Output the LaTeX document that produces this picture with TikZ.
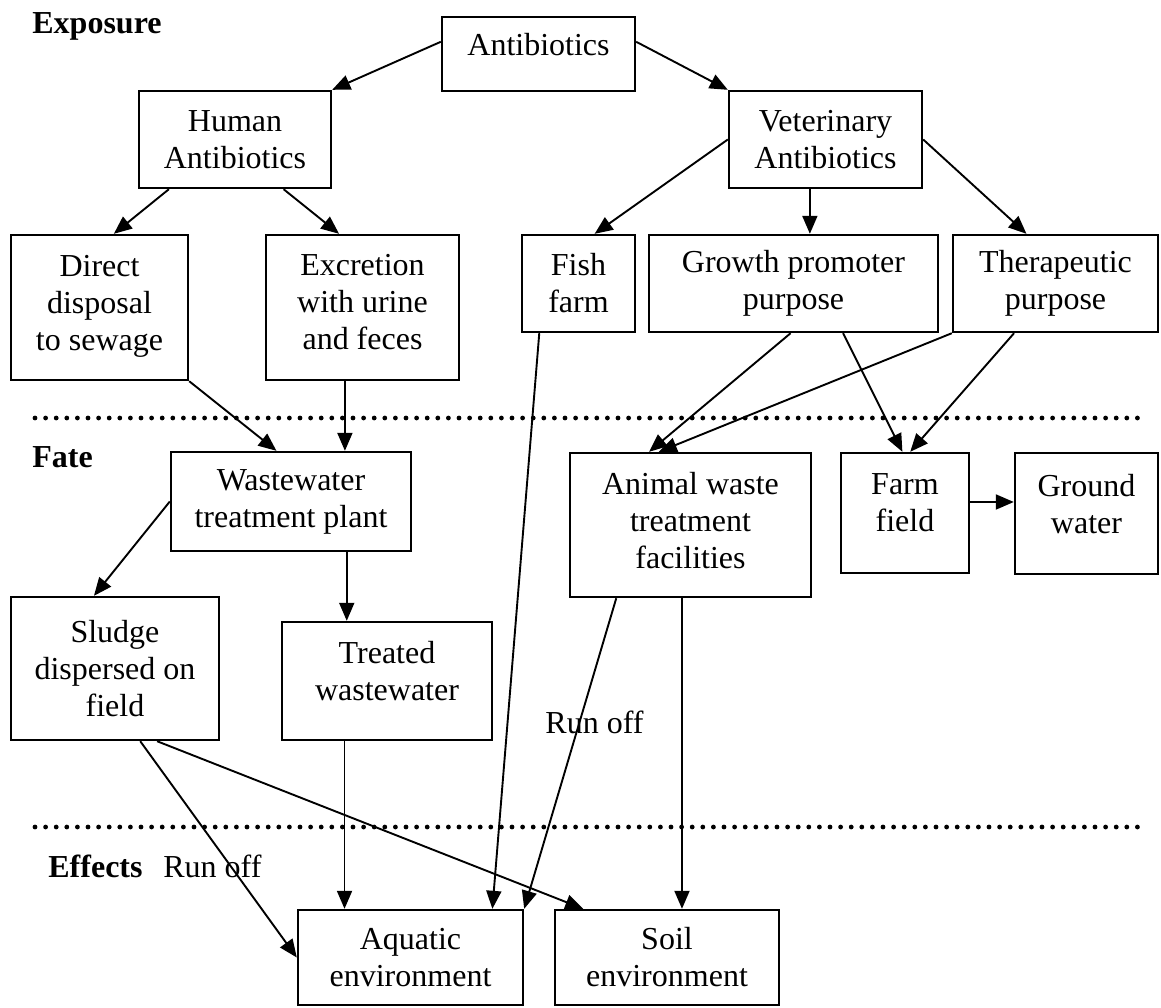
\documentclass[tikz,border=0pt]{standalone}
\usepackage{fontspec}
\setmainfont{Liberation Serif}
\usetikzlibrary{arrows.meta,calc}
\begin{document}
\begin{tikzpicture}[x=0.5pt,y=-0.5pt,
  box/.style={draw, line width=1.2pt, inner sep=0pt, align=center, font=\fontsize{16}{18.5}\selectfont},
  sz/.style 2 args={minimum width=#1*0.5pt, minimum height=#2*0.5pt},
  conn/.style={line width=0.95pt, -{Triangle[length=9pt,width=7.5pt]}},
  lbl/.style={anchor=base west, inner sep=0pt, font=\fontsize{16}{18.5}\selectfont},
  sect/.style={anchor=base west, inner sep=0pt, font=\fontsize{16}{18.5}\selectfont\bfseries},
  dots/.style={line width=2.4pt, line cap=round, dash pattern=on 0pt off 5.3pt}]
\useasboundingbox (0,0) rectangle (1161,1007);

% section labels
\node[sect] (exposure) at (32,33) {Exposure};
\node[sect] (fate) at (32,467) {Fate};
\node[sect] (effects) at (48,877) {Effects};
\node[lbl] (runoffA) at (163,877) {Run off};
\node[lbl] (runoffB) at (545,733) {Run off};

% dotted separators
\coordinate (d1a) at (35,418); \coordinate (d1b) at (1140,418);
\coordinate (d2a) at (35,827); \coordinate (d2b) at (1145,827);
\draw[dots] (d1a) -- (d1b);
\draw[dots] (d2a) -- (d2b);

% boxes
\node[box, sz={193}{74}] (anti) at (538.5,54) {Antibiotics\\[-9pt]\mbox{}};
\node[box, sz={192}{97}] (human) at (235,139.5) {Human\\Antibiotics};
\node[box, sz={193}{97}] (vet) at (825.5,139.5) {Veterinary\\Antibiotics};
\node[box, sz={177}{145}] (direct) at (99.5,307.5) {Direct\\disposal\\to sewage\\[-14pt]\mbox{}};
\node[box, sz={193}{145}] (excr) at (362.5,307.5) {Excretion\\with urine\\and feces\\[-13pt]\mbox{}};
\node[box, sz={113}{97}] (fish) at (578.5,283.5) {Fish\\farm};
\node[box, sz={289}{97}] (growth) at (793.5,283.5) {Growth promoter\\purpose};
\node[box, sz={205}{97}] (thera) at (1055.5,283.5) {Therapeutic\\purpose};
\node[box, sz={240}{99}] (wwtp) at (291,501.5) {Wastewater\\treatment plant};
\node[box, sz={241}{144}] (animal) at (690.5,525) {Animal waste\\treatment\\facilities\\[-14pt]\mbox{}};
\node[box, sz={128}{120}] (farm) at (905,513) {Farm\\field\\[-8.5pt]\mbox{}};
\node[box, sz={143}{121}] (ground) at (1086.5,513.5) {Ground\\water\\[-8.5pt]\mbox{}};
\node[box, sz={208}{143}] (sludge) at (115,668.5) {Sludge\\dispersed on\\field};
\node[box, sz={210}{118}] (treated) at (387,681) {Treated\\wastewater\\[-8.5pt]\mbox{}};
\node[box, sz={225}{95}] (aquatic) at (410.5,957.5) {Aquatic\\environment};
\node[box, sz={224}{95}] (soil) at (667,957.5) {Soil\\environment};

% connectors
\draw[conn] ($(anti.north west)!0.34!(anti.south west)$) -- (human.north east);
\draw[conn] ($(anti.north east)!0.34!(anti.south east)$) -- (vet.north west);
\draw[conn] ($(human.south west)!0.16!(human.south east)$) -- ($(direct.north west)!0.58!(direct.north east)$);
\draw[conn] ($(human.south west)!0.75!(human.south east)$) -- ($(excr.north west)!0.38!(excr.north east)$);
\draw[conn] (vet.west) -- ($(fish.north west)!0.64!(fish.north east)$);
\coordinate (vs) at ($(vet.south west)!0.42!(vet.south east)$);
\draw[conn] (vs) -- (vs |- growth.north);
\draw[conn] (vet.east) -- ($(thera.north west)!0.36!(thera.north east)$);
\draw[conn] (direct.south east) -- ($(wwtp.north west)!0.44!(wwtp.north east)$);
\coordinate (es) at ($(excr.south west)!0.41!(excr.south east)$);
\draw[conn] (es) -- (es |- wwtp.north);
\draw[conn] ($(fish.south west)!0.16!(fish.south east)$) -- ($(aquatic.north west)!0.86!(aquatic.north east)$);
\draw[conn] ($(growth.south west)!0.49!(growth.south east)$) -- ($(animal.north west)!0.33!(animal.north east)$);
\draw[conn] ($(growth.south west)!0.67!(growth.south east)$) -- ($(farm.north west)!0.48!(farm.north east)$);
\draw[conn] (thera.south west) -- ($(animal.north west)!0.37!(animal.north east)$);
\draw[conn] ($(thera.south west)!0.30!(thera.south east)$) -- ($(farm.north west)!0.54!(farm.north east)$);
\coordinate (fe) at ($(farm.north east)!0.41!(farm.south east)$);
\draw[conn] (fe) -- (fe -| ground.west);
\draw[conn] (wwtp.west) -- ($(sludge.north west)!0.40!(sludge.north east)$);
\coordinate (ws) at ($(wwtp.south west)!0.73!(wwtp.south east)$);
\draw[conn] (ws) -- (ws |- treated.north);
\draw[conn] ($(sludge.south west)!0.62!(sludge.south east)$) -- (aquatic.west);
\draw[conn] ($(sludge.south west)!0.70!(sludge.south east)$) -- ($(soil.north west)!0.13!(soil.north east)$);
\coordinate (ts) at ($(treated.south west)!0.30!(treated.south east)$);
\draw[conn] (ts) -- (ts |- aquatic.north);
\draw[conn] ($(animal.south west)!0.195!(animal.south east)$) -- (aquatic.north east);
\coordinate (as) at ($(animal.south west)!0.465!(animal.south east)$);
\draw[conn] (as) -- (as |- soil.north);
\end{tikzpicture}
\end{document}
